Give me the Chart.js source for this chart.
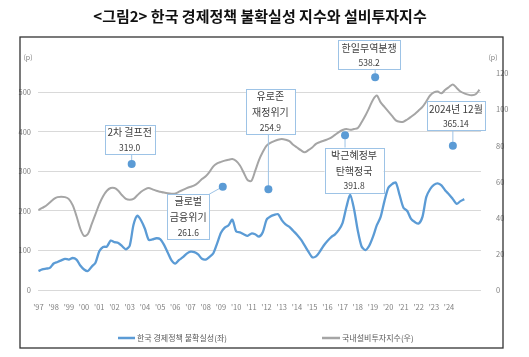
<!DOCTYPE html>
<html><head><meta charset="utf-8">
<script src="https://cdn.jsdelivr.net/npm/chart.js@4.4.1/dist/chart.umd.min.js"></script>
<style>html,body{margin:0;padding:0;background:#fff;}canvas{display:block;}</style>
</head><body>
<canvas id="c" width="529" height="357"></canvas>
<script>
// ---- data ----
const yearTicks = [1997,1998,1999,2000,2001,2002,2003,2004,2005,2006,2007,2008,2009,2010,2011,2012,2013,2014,2015,2016,2017,2018,2019,2020,2021,2022,2023,2024];
const seriesStart = 1997;
// 한국 경제정책 불확실성 (left axis), quarterly readings
const uncertainty = [
 48,52,54,56, 67,71,75,79, 77,81,77,62, 52,48,59,69, 98,109,110,125,
 121,119,111,103, 112,165,188,176, 155,127,128,131, 129,115,95,75, 67,76,83,92,
 97,96,90,79, 77,84,93,118, 145,158,164,178, 148,146,141,137, 143,141,135,146,
 178,186,190,192, 177,166,160,150, 140,128,113,97, 83,85,97,112, 124,134,141,152,
 170,210,241,205, 150,110,101,112, 135,164,185,225, 258,268,272,240, 208,200,180,172,
 168,185,235,255, 266,270,265,252, 242,230,218,225, 230
];
// 국내설비투자지수 (right axis), quarterly readings across the plot width
const investment = [
 44.3,45.5,46.7,48.5, 50.4,51.5,51.7,51.5, 50.4,47,41,34, 30,31,36.5,42, 47.6,52,55,56.5,
 56.5,55,52.5,50.5, 50,50.5,52.5,54.5, 55.8,56.5,55.8,55, 54.5,54,53.6,53.4, 53.5,54.5,55.5,56.5,
 57.2,58,59.5,61.5, 63,65.5,68.5,70.2, 71,71.7,72.2,72.6, 71.5,69,65,61, 60.5,66,72,76.5,
 80,81.5,82.5,83.3, 83.7,83.3,82.5,80.5, 79,77.5,76.3,77.5, 79,81,82,82.7, 83.5,84.5,86,87.5,
 88.7,89.3,88.8,89.2, 89.8,93,96.7,101, 105.5,107.8,104,101.5, 99,96.5,94,93.2, 93.3,94.5,96,97.6,
 99.5,101.5,104.5,107.8, 109.5,110,109,111, 112.5,113.9,112,110, 109,108.3,108,108.5, 111
];
const eventNames = [['2차 걸프전'],['글로벌','금융위기'],['유로존','재정위기'],['한일무역분쟁'],['박근혜정부','탄핵정국'],['2024년 12월']];
const eventValueText = ['319.0','261.6','254.9','538.2','391.8','365.14'];
const eventValues = [319.0,261.6,254.9,538.2,391.8,365.14];
const eventDates = [2003.13,2009.12,2012.12,2019.14,2017.16,2024.25];
const leftTicks = [0,100,200,300,400,500];
const seriesNames = ['한국 경제정책 불확실성(좌)','국내설비투자지수(우)'];
const titleText = '<그림2> 한국 경제정책 불확실성 지수와 설비투자지수';

// ---- build ----
const toPoints = arr => arr.map((v,i)=>({x: seriesStart + i/4, y: v}));
const eventPoints = eventValues.map((v,i)=>({x: eventDates[i], y: v}));

// callout layout (pixel offsets of box centre from the dot, box widths)
const boxLayout = [
  {dx:-2, dy:-24.5, w:50},
  {dx:-34.5, dy:30, w:42},
  {dx:2, dy:-78, w:49},
  {dx:-6, dy:-22.6, w:62},
  {dx:9, dy:35, w:59},
  {dx:3, dy:-30, w:58}
];
const KR = '"Noto Sans CJK KR", "Noto Sans", sans-serif';
const BLUE = '#5b9bd5', GRAY = '#a5a5a5';

const decor = {
  id:'decor',
  beforeDraw(chart){
    const c = chart.ctx;
    c.save();
    c.fillStyle='#fff'; c.fillRect(0,0,chart.width,chart.height);
    c.restore();
  },
  afterDraw(chart){
    const c = chart.ctx;
    c.save();
    // title
    c.fillStyle='#111';
    c.font='bold 15px '+KR;
    c.textAlign='center'; c.textBaseline='middle';
    c.fillText(titleText, 260, 16);
    // frame
    c.strokeStyle='#333'; c.lineWidth=1.3;
    c.strokeRect(20,37,483,311);
    // (p) units
    c.fillStyle='#7f7f7f'; c.font='7px '+KR;
    c.textAlign='center';
    c.fillText('(p)', 28, 57);
    c.fillText('(p)', 493, 57);
    // legend
    const ds = chart.data.datasets;
    const items = [{x:118, len:17}, {x:322, len:18}];
    c.font='8px '+KR; c.textAlign='left'; c.textBaseline='middle';
    items.forEach((it,i)=>{
      c.strokeStyle = ds[i].borderColor; c.lineWidth = 2.5;
      c.beginPath(); c.moveTo(it.x,338); c.lineTo(it.x+it.len,338); c.stroke();
      c.fillStyle='#595959';
      c.fillText(ds[i].label, it.x+it.len+2, 338);
    });
    // callouts
    const xs = chart.scales.x, ys = chart.scales.y;
    eventPoints.forEach((p,i)=>{
      const px = xs.getPixelForValue(p.x), py = ys.getPixelForValue(p.y);
      const L = boxLayout[i];
      const lines = eventNames[i];
      const n = lines.length + 1;
      const h = 16*n - 3;
      const w = L.w;
      const cx = px + L.dx, cy = py + L.dy;
      const left = cx - w/2, top = cy - h/2;
      const nx = Math.max(left, Math.min(px, left+w));
      const ny = Math.max(top, Math.min(py, top+h));
      c.strokeStyle='#9dc3e6'; c.lineWidth=1;
      c.beginPath(); c.moveTo(px,py); c.lineTo(nx,ny); c.stroke();
      c.fillStyle='#fff';
      c.fillRect(left,top,w,h);
      c.strokeRect(Math.round(left)+0.5,Math.round(top)+0.5,Math.round(w),Math.round(h));
      c.fillStyle='#404040'; c.textAlign='center'; c.textBaseline='middle';
      c.font='10px '+KR;
      lines.forEach((t,k)=>c.fillText(t, cx, top+7.5+16*k));
      c.font='8.5px '+KR;
      c.fillText(eventValueText[i], cx, top+7.5+16*lines.length - 1);
      c.fillStyle=BLUE;
      c.beginPath(); c.arc(px,py,4,0,Math.PI*2); c.fill();
    });
    c.restore();
  }
};

new Chart(document.getElementById('c'), {
  type:'line',
  data:{datasets:[
    {label:seriesNames[0], data:toPoints(uncertainty), borderColor:BLUE, borderWidth:2.3, pointRadius:0, yAxisID:'y', tension:0.25},
    {label:seriesNames[1], data:toPoints(investment), borderColor:GRAY, borderWidth:2, pointRadius:0, yAxisID:'y1', tension:0.3},
    {type:'scatter', label:'events', data:eventPoints, pointRadius:0, yAxisID:'y', showLine:false}
  ]},
  options:{
    responsive:false, animation:false, devicePixelRatio:1,
    layout:{padding:{left:0,right:0,top:73.5,bottom:0}},
    plugins:{legend:{display:false}, title:{display:false}, tooltip:{enabled:false}},
    scales:{
      x:{type:'linear', min:1996.97, max:2026.1,
        grid:{display:false}, border:{display:false},
        afterBuildTicks(s){ s.ticks = yearTicks.map(v=>({value:v})); },
        afterFit(s){ s.height = 67; },
        ticks:{autoSkip:false, maxRotation:0, padding:5, color:'#7f7f7f', font:{size:7.5, family:KR},
          callback:v=>"'"+String(v).slice(2)}
      },
      y:{type:'linear', position:'left', min:0, max:548,
        grid:{color:'#d9d9d9', lineWidth:1, drawTicks:false}, border:{display:false},
        afterBuildTicks(s){ s.ticks = leftTicks.map(v=>({value:v})); },
        afterFit(s){ s.width = 38; },
        ticks:{padding:7, color:'#7f7f7f', font:{size:7.5, family:KR}}
      },
      y1:{type:'linear', position:'right', min:0, max:120,
        grid:{display:false}, border:{display:false},
        afterFit(s){ s.width = 48; },
        ticks:{stepSize:20, padding:7, color:'#7f7f7f', font:{size:7.5, family:KR}}
      }
    }
  },
  plugins:[decor]
});
</script>
</body></html>
